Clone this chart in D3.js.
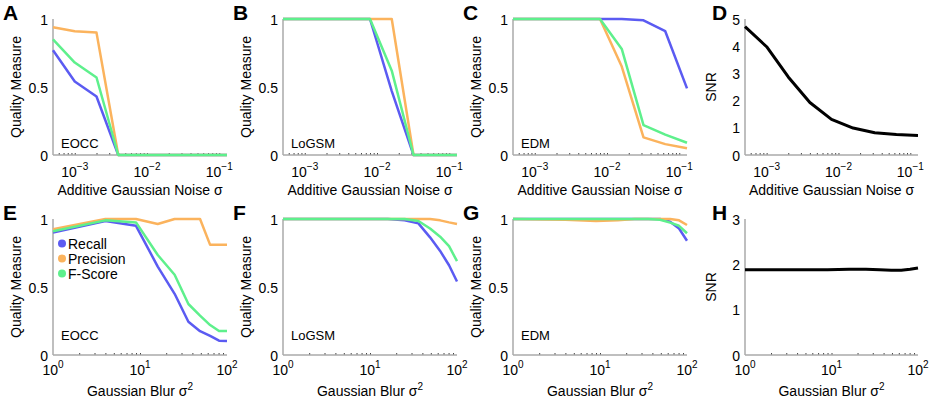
<!DOCTYPE html>
<html>
<head>
<meta charset="utf-8">
<script src="https://cdn.jsdelivr.net/npm/d3@7"></script>
<style>
  body { margin: 0; background: #fff; }
  text { font-family: "Liberation Sans", Arial, sans-serif; fill: #000; }
</style>
</head>
<body>
<script>
// x values
const noiseSigma = [0.0005, 0.001, 0.002, 0.004, 0.008, 0.016, 0.032, 0.064, 0.128]
const blurSigma2 = [1, 4, 9, 16, 25, 36, 49, 64, 81, 100]

// top row: additive noise
const eoccNoiseRecall = [0.77, 0.54, 0.43, 0, 0, 0, 0, 0, 0]
const eoccNoisePrecision = [0.94, 0.91, 0.9, 0, 0, 0, 0, 0, 0]
const eoccNoiseFscore = [0.85, 0.68, 0.57, 0, 0, 0, 0, 0, 0]
const logsmNoiseRecall = [1, 1, 1, 1, 1, 0.47, 0, 0, 0]
const logsmNoisePrecision = [1, 1, 1, 1, 1, 1, 0, 0, 0]
const logsmNoiseFscore = [1, 1, 1, 1, 1, 0.62, 0, 0, 0]
const edmNoiseRecall = [1, 1, 1, 1, 1, 1, 0.99, 0.91, 0.49]
const edmNoisePrecision = [1, 1, 1, 1, 1, 0.65, 0.13, 0.08, 0.05]
const edmNoiseFscore = [1, 1, 1, 1, 1, 0.78, 0.22, 0.15, 0.09]
const snrNoise = [4.72, 3.98, 2.87, 1.93, 1.31, 0.99, 0.82, 0.75, 0.72]

// bottom row: gaussian blur
const eoccBlurRecall = [0.9, 0.985, 0.95, 0.65, 0.45, 0.245, 0.175, 0.14, 0.105, 0.103]
const eoccBlurPrecision = [0.925, 1, 1, 0.963, 1, 1, 1, 0.81, 0.81, 0.81]
const eoccBlurFscore = [0.91, 0.99, 0.975, 0.735, 0.59, 0.375, 0.29, 0.22, 0.176, 0.176]
const logsmBlurRecall = [1, 1, 1, 1, 0.99, 0.968, 0.865, 0.765, 0.66, 0.54]
const logsmBlurPrecision = [1, 1, 1, 1, 1, 1, 1, 0.99, 0.975, 0.963]
const logsmBlurFscore = [1, 1, 1, 1, 1, 0.985, 0.93, 0.87, 0.8, 0.69]
const edmBlurRecall = [1, 1, 1, 1, 1, 1, 1, 0.98, 0.93, 0.84]
const edmBlurPrecision = [1, 0.995, 0.985, 0.99, 1, 1, 1, 1, 0.99, 0.956]
const edmBlurFscore = [1, 1, 1, 1, 1, 1, 0.995, 0.973, 0.95, 0.895]
const snrBlur = [1.88, 1.88, 1.88, 1.89, 1.89, 1.88, 1.87, 1.87, 1.89, 1.92]

const seriesNames = ['Recall', 'Precision', 'F-Score']
const seriesColors = ['#5b5bf2', '#fbb35d', '#5ef08c']

const noiseTicks = [1e-3, 1e-2, 1e-1]
const noiseTickExp = ['\u22123', '\u22122', '\u22121']
const blurTicks = [1, 10, 100]
const blurTickExp = ['0', '1', '2']
const qualityTicks = [0, 0.5, 1]
const snrNoiseTicks = [0, 1, 2, 3, 4, 5]
const snrBlurTicks = [0, 1, 2, 3]

const width = 937
const height = 406
const svg = d3.select('body').append('svg')
  .attr('width', width)
  .attr('height', height)

const colLeft = [53, 283, 513, 745]
const rowTop = [19, 219]
const pw = 174
const ph = 136

const panels = [
  { letter: 'A', col: 0, row: 0, name: 'EOCC', series: [eoccNoiseRecall, eoccNoisePrecision, eoccNoiseFscore] },
  { letter: 'B', col: 1, row: 0, name: 'LoGSM', series: [logsmNoiseRecall, logsmNoisePrecision, logsmNoiseFscore] },
  { letter: 'C', col: 2, row: 0, name: 'EDM', series: [edmNoiseRecall, edmNoisePrecision, edmNoiseFscore] },
  { letter: 'D', col: 3, row: 0, snr: snrNoise },
  { letter: 'E', col: 0, row: 1, name: 'EOCC', legend: true, series: [eoccBlurRecall, eoccBlurPrecision, eoccBlurFscore] },
  { letter: 'F', col: 1, row: 1, name: 'LoGSM', series: [logsmBlurRecall, logsmBlurPrecision, logsmBlurFscore] },
  { letter: 'G', col: 2, row: 1, name: 'EDM', series: [edmBlurRecall, edmBlurPrecision, edmBlurFscore] },
  { letter: 'H', col: 3, row: 1, snr: snrBlur }
]

panels.forEach(function (p) {
  let left = colLeft[p.col]
  let top = rowTop[p.row]
  let xs = p.row === 0 ? noiseSigma : blurSigma2
  let w = p.col === 3 ? pw - 1 : pw

  let x = d3.scaleLog()
    .domain(p.row === 0 ? [0.0005, 0.128] : [1, 100])
    .range([0, w])
  let yMax = p.snr ? (p.row === 0 ? 5 : 3) : 1
  let y = d3.scaleLinear().domain([0, yMax]).range([ph, 0])

  let g = svg.append('g').attr('transform', 'translate(' + left + ',' + top + ')')

  // minor ticks along the bottom axis
  let minor = []
  let d0 = x.domain()
  for (let e = -4; e <= 2; e++) {
    for (let m = 1; m <= 9; m++) {
      let v = m * Math.pow(10, e)
      if (v >= d0[0] * 1.0001 && v <= d0[1] * 0.9999) minor.push(v)
    }
  }
  let xAxis = g.append('g')
    .attr('transform', 'translate(0,' + ph + ')')
    .call(d3.axisBottom(x).tickValues(minor).tickSize(-2).tickFormat(''))
  xAxis.select('.domain').remove()
  xAxis.selectAll('.tick line').attr('stroke', '#444').attr('stroke-width', 1)

  // axis lines
  g.append('line')
    .attr('x1', 0).attr('x2', w).attr('y1', ph).attr('y2', ph)
    .attr('stroke', '#aaa').attr('stroke-width', 1.5)
  g.append('line')
    .attr('x1', 0).attr('x2', 0).attr('y1', 0).attr('y2', ph)
    .attr('stroke', '#aaa').attr('stroke-width', 1.5)

  // y tick labels
  let yTicks = p.snr ? (p.row === 0 ? snrNoiseTicks : snrBlurTicks) : qualityTicks
  let yAxis = g.append('g')
    .call(d3.axisLeft(y).tickValues(yTicks).tickSize(0).tickPadding(5)
      .tickFormat(function (d) { return d === 0.5 ? '0.5' : d3.format('d')(d) }))
  yAxis.select('.domain').remove()
  yAxis.selectAll('text')
    .style('font-size', '14px')
    .attr('dy', '0.36em')

  // x tick labels with exponents
  let ticks = p.row === 0 ? noiseTicks : blurTicks
  let exps = p.row === 0 ? noiseTickExp : blurTickExp
  let tickY = p.row === 0 ? ph + 22 : ph + 20
  ticks.forEach(function (t, i) {
    let tx = g.append('text')
      .attr('x', x(t))
      .attr('y', tickY)
      .attr('text-anchor', 'middle')
      .style('font-size', '14px')
    tx.append('tspan').text('10')
    tx.append('tspan').attr('dy', -7).style('font-size', '10px').text(exps[i])
  })

  // x title
  let title = g.append('text')
    .attr('x', w / 2)
    .attr('y', p.row === 0 ? ph + 40 : ph + 41)
    .attr('text-anchor', 'middle')
    .style('font-size', '14px')
  if (p.row === 0) {
    title.text('Additive Gaussian Noise \u03c3')
  } else {
    title.append('tspan').text('Gaussian Blur \u03c3')
    title.append('tspan').attr('dy', -6).style('font-size', '10px').text('2')
  }

  // y title
  g.append('text')
    .attr('transform', 'translate(' + (p.snr ? -29 : -32) + ',' + (ph / 2) + ') rotate(-90)')
    .attr('text-anchor', 'middle')
    .style('font-size', '14px')
    .text(p.snr ? 'SNR' : 'Quality Measure')

  // panel letter
  g.append('text')
    .attr('x', p.snr ? -33 : -50)
    .attr('y', 1)
    .style('font-size', '21px')
    .style('font-weight', 'bold')
    .text(p.letter)

  let line = d3.line()
    .x(function (d, i) { return x(xs[i]) })
    .y(function (d) { return y(d) })

  if (p.snr) {
    g.append('path')
      .attr('d', line(p.snr))
      .attr('fill', 'none')
      .attr('stroke', '#000')
      .attr('stroke-width', 3)
      .attr('stroke-linejoin', 'round')
  } else {
    // draw recall, precision, then f-score on top
    p.series.forEach(function (s, i) {
      g.append('path')
        .attr('d', line(s))
        .attr('fill', 'none')
        .attr('stroke', seriesColors[i])
        .attr('stroke-width', 2.5)
        .attr('stroke-linejoin', 'round')
    })

    g.append('text')
      .attr('x', 8)
      .attr('y', p.row === 0 ? ph - 7 : ph - 15)
      .style('font-size', '13px')
      .text(p.name)
  }

  if (p.legend) {
    seriesNames.forEach(function (n, i) {
      g.append('circle')
        .attr('cx', 9)
        .attr('cy', 24.5 + i * 15)
        .attr('r', 4)
        .attr('fill', seriesColors[i])
      g.append('text')
        .attr('x', 15)
        .attr('y', 29.5 + i * 15)
        .style('font-size', '14px')
        .text(n)
    })
  }
})
</script>
</body>
</html>
